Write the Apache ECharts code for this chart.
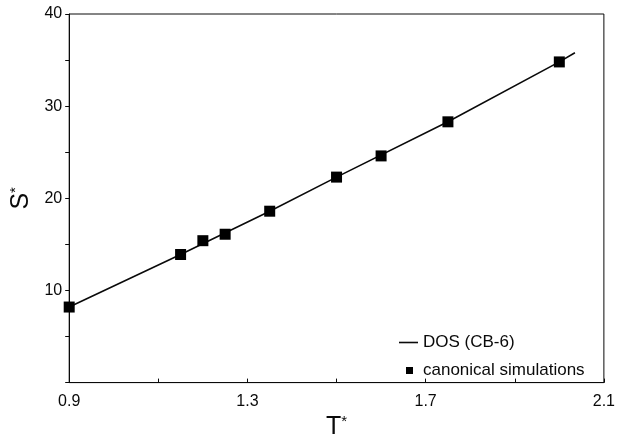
<!DOCTYPE html>
<html><head><meta charset="utf-8">
<script src="https://cdn.jsdelivr.net/npm/echarts@6/dist/echarts.min.js"></script>
<style>html,body{margin:0;padding:0;background:#fff}#c{width:618px;height:445px}</style>
</head><body><div id="c"></div>
<script>
// canonical simulations (squares)
const simT = [0.90, 1.15, 1.20, 1.25, 1.35, 1.50, 1.60, 1.75, 2.00];
const simS = [8.2, 13.9, 15.4, 16.1, 18.6, 22.3, 24.6, 28.3, 34.8];
// DOS (CB-6) curve
const dosT = [0.90, 1.15, 1.35, 1.50, 1.75, 2.00, 2.035];
const dosS = [8.2, 13.9, 18.6, 22.3, 28.3, 34.8, 35.8];
const xTickLabels = ['0.9', '1.3', '1.7', '2.1'];
const yTickLabels = ['10', '20', '30', '40'];
const seriesNames = ['DOS (CB-6)', 'canonical simulations'];

const FONT = '"Liberation Sans", Arial, Helvetica, sans-serif';
const INK = '#0a0a0a';
const chart = echarts.init(document.getElementById('c'), null, {renderer: 'canvas'});
const zip = (a, b) => a.map((v, i) => [v, b[i]]);

chart.setOption({
  animation: false,
  backgroundColor: '#fff',
  grid: {left: 69, right: 11, top: 14, bottom: 51, show: true, borderColor: INK, borderWidth: 1},
  legend: [
    {data: [{name: seriesNames[0], icon: 'rect'}], left: 394, top: 329, itemWidth: 19, itemHeight: 1.6,
     itemStyle: {opacity: 1},
     textStyle: {fontFamily: FONT, fontSize: 17, color: INK}, selectedMode: false},
    {data: [{name: seriesNames[1], icon: 'rect'}], left: 401, top: 357, itemWidth: 7, itemHeight: 7,
     itemStyle: {opacity: 1},
     textStyle: {fontFamily: FONT, fontSize: 17, color: INK, padding: [0, 0, 0, 5]}, selectedMode: false}
  ],
  xAxis: {
    type: 'value', min: 0.9, max: 2.1, interval: 0.2,
    name: '{m|T}{s|*}', nameLocation: 'middle', nameGap: 24,
    nameTextStyle: {rich: {
      m: {fontFamily: FONT, fontSize: 25, color: INK, lineHeight: 26},
      s: {fontFamily: FONT, fontSize: 15, color: INK, verticalAlign: 'top', lineHeight: 15}
    }},
    axisLine: {show: true, lineStyle: {color: INK, width: 1}},
    axisTick: {show: true, inside: true, length: 4, lineStyle: {color: INK}},
    axisLabel: {fontFamily: FONT, fontSize: 16, color: INK, margin: 11,
      formatter: v => { const s = (+v).toFixed(1); return xTickLabels.includes(s) ? s : ''; }},
    splitLine: {show: false}
  },
  yAxis: {
    type: 'value', min: 0, max: 40, interval: 5,
    name: '{m|S}{s|*}', nameLocation: 'middle', nameGap: 33, nameRotate: 90,
    nameTextStyle: {rich: {
      m: {fontFamily: FONT, fontSize: 25, color: INK, lineHeight: 26},
      s: {fontFamily: FONT, fontSize: 15, color: INK, verticalAlign: 'top', lineHeight: 15}
    }},
    axisLine: {show: true, lineStyle: {color: INK, width: 1}},
    axisTick: {show: true, inside: false, length: 4, lineStyle: {color: INK}},
    axisLabel: {fontFamily: FONT, fontSize: 16, color: INK, margin: 7,
      formatter: v => { const s = String(Math.round(v)); return yTickLabels.includes(s) ? s : ''; }},
    splitLine: {show: false}
  },
  series: [
    {name: seriesNames[0], type: 'line', data: zip(dosT, dosS), showSymbol: false, symbol: 'none',
     lineStyle: {color: INK, width: 1.6}, itemStyle: {color: INK}, z: 2},
    {name: seriesNames[1], type: 'scatter', data: zip(simT, simS), symbol: 'rect', symbolSize: 11,
     itemStyle: {color: '#000', opacity: 1}, z: 3}
  ]
});
</script></body></html>
